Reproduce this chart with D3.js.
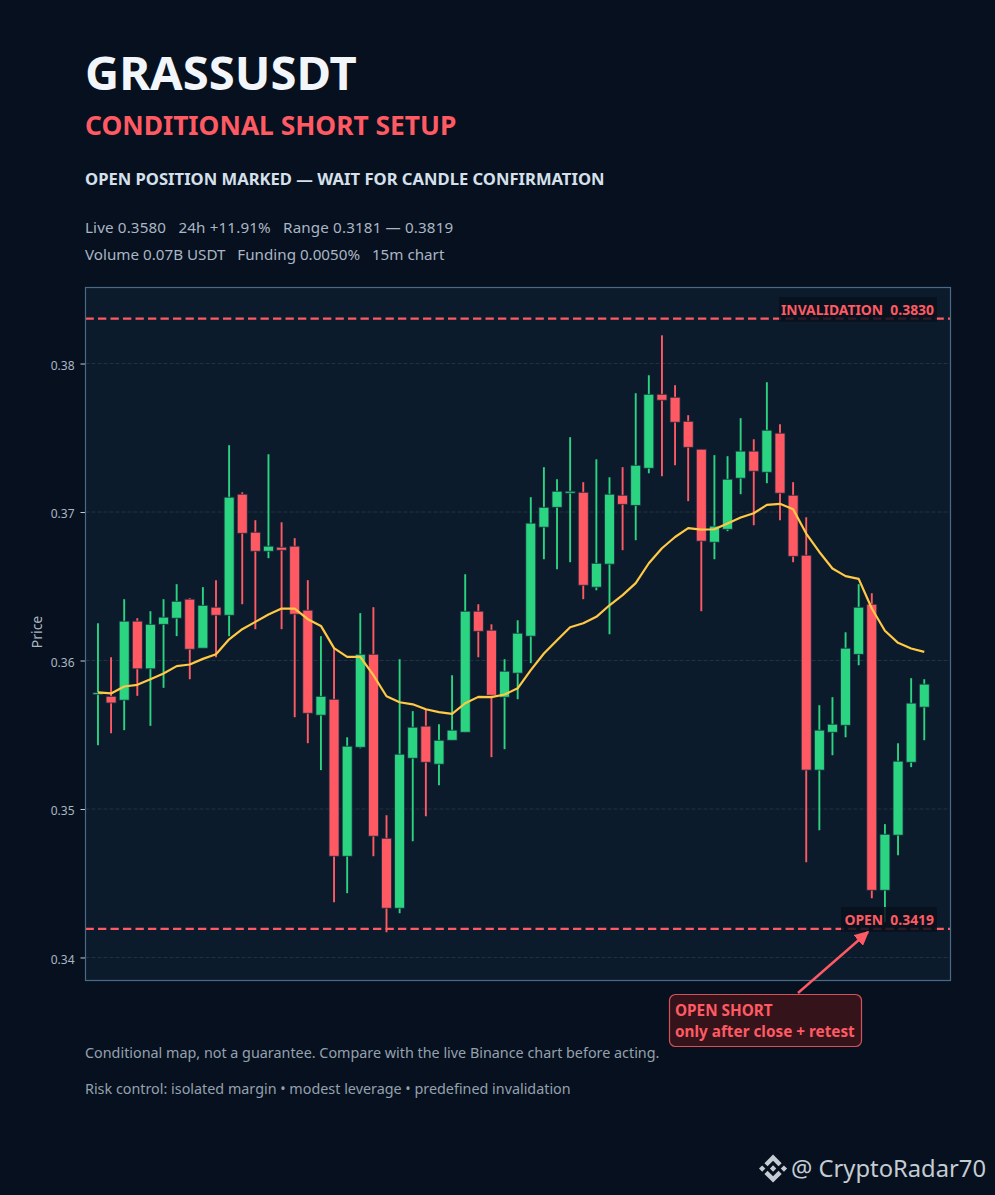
<!DOCTYPE html>
<html>
<head>
<meta charset="utf-8">
<script src="https://cdn.jsdelivr.net/npm/d3@7"></script>
<style>
  html, body { margin: 0; padding: 0; background: #07101e; }
  svg { display: block; }
  text { font-family: "Noto Sans", sans-serif; }
</style>
</head>
<body>
<div id="chart"></div>
<script>
// 15m candles
const opens  = [.35770,.35759,.35733,.36265,.35944,.36244,.36285,.36413,.36083,.36359,.36305,.37120,.36864,.36736,.36763,.36770,
                .36339,.35632,.35739,.34682,.35416,.36042,.34803,.34332,.35342,.35558,.35302,.35463,.35517,.36332,.36204,.35753,
                .35915,.36164,.36898,.37032,.37127,.37133,.36494,.36649,.37113,.37045,.37295,.37793,.37773,.37611,.37423,.36797,
                .36884,.37228,.37410,.37268,.37531,.37113,.36709,.35262,.35517,.35564,.36042,.36379,.34453,.34824,.35315,.35686];
const highs  = [.36251,.36022,.36413,.36285,.36332,.36413,.36514,.36420,.36494,.36541,.37450,.37133,.36945,.37389,.36931,.36824,
                .36541,.36164,.36083,.35483,.36319,.36359,.34958,.36009,.35659,.35672,.35571,.35901,.36581,.36379,.36244,.36009,
                .36271,.37100,.37302,.37221,.37504,.37201,.37355,.37234,.37302,.37800,.37921,.38190,.37854,.37652,.37423,.37383,
                .37376,.37632,.37490,.37874,.37591,.37201,.36965,.35699,.35753,.36190,.36514,.36453,.34898,.35443,.35881,.35874];
const lows   = [.35430,.35510,.35531,.35762,.35560,.35816,.36164,.35874,.36083,.36022,.36164,.36379,.36211,.36689,.36211,.35618,
                .35443,.35262,.34372,.34433,.35409,.34682,.34170,.34298,.34783,.34951,.35160,.35463,.35517,.36022,.35349,.35403,
                .35739,.35982,.36682,.36615,.36662,.36413,.36473,.36177,.36743,.36810,.37261,.37241,.37315,.37073,.36332,.36682,
                .36871,.37120,.36911,.37194,.36945,.36662,.34642,.34857,.35362,.35483,.35968,.34399,.34238,.34689,.35282,.35463];
const closes = [.35783,.35714,.36265,.35944,.36244,.36292,.36399,.36076,.36372,.36305,.37100,.36857,.36736,.36770,.36743,.36312,
                .35645,.35759,.34682,.35423,.36042,.34817,.34332,.35369,.35551,.35315,.35463,.35531,.36332,.36197,.35766,.35928,
                .36184,.36925,.37032,.37140,.37140,.36507,.36655,.37120,.37052,.37315,.37793,.37753,.37605,.37436,.36804,.36905,
                .37221,.37410,.37275,.37551,.37127,.36702,.35262,.35531,.35571,.36083,.36359,.34453,.34830,.35322,.35713,.35841];
const maLine = [.35785,.35778,.35825,.35836,.35874,.35912,.35962,.35973,.36011,.36042,.36143,.36211,.36260,.36310,.36350,.36350,
                .36278,.36233,.36083,.36024,.36024,.35901,.35759,.35719,.35705,.35672,.35652,.35640,.35712,.35755,.35753,.35771,
                .35813,.35935,.36047,.36137,.36224,.36251,.36294,.36372,.36440,.36521,.36655,.36756,.36832,.36891,.36882,.36884,
                .36923,.36963,.36992,.37048,.37055,.37019,.36855,.36731,.36620,.36568,.36550,.36350,.36200,.36119,.36081,.36058];

const yTicks = [0.34, 0.35, 0.36, 0.37, 0.38];
const levelNames = ["INVALIDATION", "OPEN"];
const levelValues = [0.3830, 0.3419];
const statLines = ["Live 0.3580   24h +11.91%   Range 0.3181 — 0.3819", "Volume 0.07B USDT   Funding 0.0050%   15m chart"];
const footLines = ["Conditional map, not a guarantee. Compare with the live Binance chart before acting.",
                   "Risk control: isolated margin • modest leverage • predefined invalidation"];

const GREEN = "#2bd480", RED = "#ff5a63", GOLD = "#ffc845";

const W = 995, H = 1195;
const frame = { left: 85.5, right: 950.5, top: 287.5, bottom: 980.5 };

const svg = d3.select("#chart").append("svg")
  .attr("width", W)
  .attr("height", H);

svg.append("rect").attr("width", W).attr("height", H).attr("fill", "#07101e");

// --- header ---
function addText(x, y, txt, size, weight, color) {
  return svg.append("text")
    .attr("x", x).attr("y", y)
    .attr("font-size", size).attr("font-weight", weight)
    .attr("fill", color)
    .attr("xml:space", "preserve")
    .style("white-space", "pre")
    .text(txt);
}

addText(85, 90, "GRASSUSDT", 47.2, 700, "#f2f6fa");
addText(85, 135, "CONDITIONAL SHORT SETUP", 26.35, 700, RED);
addText(85, 185, "OPEN POSITION MARKED — WAIT FOR CANDLE CONFIRMATION", 16.6, 700, "#d5e0ec");
statLines.forEach((s, i) => {
  addText(85, 233 + i * 27, s, 15.2, 400, "#aab6c4")
    .attr("letter-spacing", i ? 0 : 0.14);
});
footLines.forEach((s, i) => addText(85, 1058 + i * 36, s, 14.35, 400, "#94a1ae"));

// --- scales ---
const x = d3.scaleLinear().domain([-0.95, 65]).range([frame.left, frame.right]);
const y = d3.scaleLinear().domain([0.33845, 0.38512]).range([frame.bottom, frame.top]);

svg.append("rect")
  .attr("x", frame.left).attr("y", frame.top)
  .attr("width", frame.right - frame.left).attr("height", frame.bottom - frame.top)
  .attr("fill", "#0c1b2c");

// grid
svg.append("g").selectAll("line")
  .data(yTicks)
  .join("line")
  .attr("x1", frame.left).attr("x2", frame.right)
  .attr("y1", d => y(d)).attr("y2", d => y(d))
  .attr("stroke", "#22323f")
  .attr("stroke-width", 1)
  .attr("stroke-dasharray", "4,2");

// axis
const axis = svg.append("g")
  .attr("transform", `translate(${frame.left},0)`)
  .call(d3.axisLeft(y).tickValues(yTicks).tickFormat(d3.format(".2f")).tickSize(5).tickPadding(6));
axis.select(".domain").remove();
axis.selectAll("line").attr("stroke", "#c3ced8").attr("stroke-width", 1);
axis.selectAll("text")
  .attr("dy", ".46em")
  .attr("fill", "#aab6c4")
  .attr("font-size", 12)
  .style("font-family", '"Noto Sans", sans-serif');

svg.append("text")
  .attr("transform", `translate(42,632) rotate(-90)`)
  .attr("text-anchor", "middle")
  .attr("font-size", 14)
  .attr("fill", "#aab6c4")
  .text("Price");

// --- candles ---
const idx = d3.range(opens.length);
const isUp = i => closes[i] >= opens[i];
const candleColor = i => isUp(i) ? GREEN : RED;
const bodyW = 10;

svg.append("g").selectAll("line")
  .data(idx)
  .join("line")
  .attr("x1", i => x(i)).attr("x2", i => x(i))
  .attr("y1", i => y(highs[i])).attr("y2", i => y(lows[i]))
  .attr("stroke", candleColor)
  .attr("stroke-width", 1.9);

svg.append("g").selectAll("rect")
  .data(idx)
  .join("rect")
  .attr("x", i => x(i) - bodyW / 2)
  .attr("width", bodyW)
  .attr("y", i => y(Math.max(opens[i], closes[i])))
  .attr("height", i => Math.max(1.5, Math.abs(y(opens[i]) - y(closes[i]))))
  .attr("fill", candleColor)
  .attr("stroke", "#1b2c40")
  .attr("stroke-width", 0.8);

// moving average
const maPath = d3.line().x((d, i) => x(i)).y(d => y(d));
svg.append("path")
  .attr("d", maPath(maLine))
  .attr("fill", "none")
  .attr("stroke", GOLD)
  .attr("stroke-width", 2.2)
  .attr("stroke-linejoin", "round");

// --- levels ---
svg.append("g").selectAll("line")
  .data(levelValues)
  .join("line")
  .attr("x1", frame.left).attr("x2", frame.right)
  .attr("y1", d => y(d) - 0.4).attr("y2", d => y(d) - 0.4)
  .attr("stroke", RED)
  .attr("stroke-width", 2.4)
  .attr("stroke-dasharray", "8.3,4.2");

// frame on top of the fill and the level lines
svg.append("rect")
  .attr("x", frame.left).attr("y", frame.top)
  .attr("width", frame.right - frame.left).attr("height", frame.bottom - frame.top)
  .attr("fill", "none")
  .attr("stroke", "#4a6a85")
  .attr("stroke-width", 1.2);

const levelBoxX = [779, 841];
const levelBoxW = [158, 96];
const levelBoxY = [297, 907];

levelNames.forEach((name, i) => {
  svg.append("rect")
    .attr("x", levelBoxX[i]).attr("y", levelBoxY[i])
    .attr("width", levelBoxW[i]).attr("height", 24.7)
    .attr("fill", "#08111c")
    .attr("fill-opacity", 0.85);
  svg.append("text")
    .attr("x", 934).attr("y", levelBoxY[i] + 17.5)
    .attr("text-anchor", "end")
    .attr("font-size", 13.9).attr("font-weight", 700)
    .attr("fill", RED)
    .style("white-space", "pre")
    .text(`${name}  ${levelValues[i].toFixed(4)}`);
});

// --- callout + arrow ---
svg.append("defs").append("marker")
  .attr("id", "arrow-open")
  .attr("viewBox", "0 -5 10 10")
  .attr("refX", 9).attr("refY", 0)
  .attr("markerWidth", 6).attr("markerHeight", 6)
  .attr("orient", "auto")
  .append("path")
  .attr("d", "M0,-5L10,0L0,5Z")
  .attr("fill", RED);

svg.append("line")
  .attr("x1", 798).attr("y1", 993)
  .attr("x2", 868).attr("y2", 932)
  .attr("stroke", RED)
  .attr("stroke-width", 2.4)
  .attr("marker-end", "url(#arrow-open)");

svg.append("rect")
  .attr("x", 669.5).attr("y", 994.5)
  .attr("width", 192).attr("height", 52)
  .attr("rx", 6).attr("ry", 6)
  .attr("fill", "#35131a")
  .attr("stroke", "#d4535a")
  .attr("stroke-width", 1.2);
addText(675, 1016, "OPEN SHORT", 15.3, 700, RED);
addText(675, 1037, "only after close + retest", 15.3, 700, RED);

// --- watermark ---
const logoPaths = [
  "M38.73 53.2l24.59-24.58 24.6 24.6 14.3-14.31L63.32 0 24.42 38.9l14.31 14.3z",
  "M0 63.31l14.3-14.31 14.31 14.31-14.31 14.3z",
  "M38.73 73.41l24.59 24.59 24.6-24.6 14.31 14.29-.01.01-38.9 38.91-38.91-38.88-.02-.02 14.34-14.3z",
  "M98.01 63.31l14.3-14.31 14.31 14.31-14.31 14.3z",
  "M77.83 63.3L63.32 48.78 52.59 59.51l-1.24 1.23-2.54 2.54 14.51 14.5 14.51-14.47z"
];
svg.append("g")
  .attr("transform", "translate(759,1154.5) scale(0.222)")
  .selectAll("path")
  .data(logoPaths)
  .join("path")
  .attr("d", d => d)
  .attr("fill", "#c4ccd3");

addText(791, 1177, "@ CryptoRadar70", 23.75, 400, "#c4ccd3");
</script>
</body>
</html>
